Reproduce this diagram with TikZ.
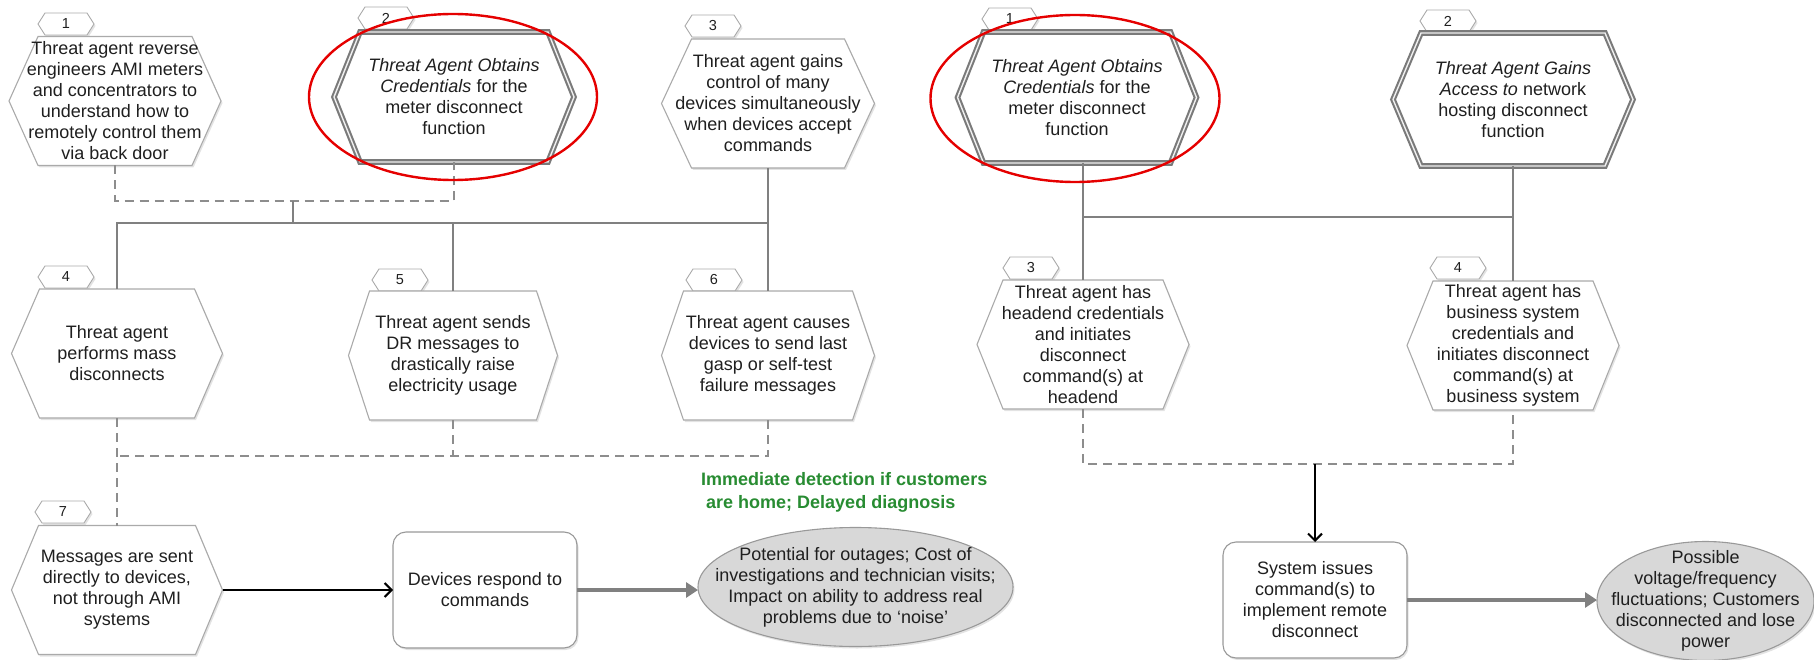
\documentclass[tikz,border=0pt]{standalone}
\usepackage{fontspec}
\setmainfont{Liberation Sans}
\usetikzlibrary{arrows.meta,shapes.geometric,shadows}

\definecolor{notegreen}{RGB}{40,140,50}
\definecolor{linegray}{RGB}{128,128,128}
\definecolor{hexedge}{RGB}{170,170,170}
\definecolor{outcomefill}{RGB}{216,216,216}

% hexagon with a text node on top of it
% #1 name, #2 outline style, #3 text style, #4 cx, #5 cy, #6 half width, #7 half height, #8 corner inset, #9 text
\newcommand\hexnode[9]{%
  \draw[#2] ({#4-#6},{#5}) -- ({#4-#6+#8},{#5-#7}) -- ({#4+#6-#8},{#5-#7})
    -- ({#4+#6},{#5}) -- ({#4+#6-#8},{#5+#7}) -- ({#4-#6+#8},{#5+#7}) -- cycle;
  \node[#3, minimum width={2*#6}, minimum height={2*#7}] (#1) at (#4,#5) {#9};
}

\begin{document}
\begin{tikzpicture}[x=1pt,y=-1pt,
  softshadow/.style={drop shadow={shadow xshift=1.5pt, shadow yshift=-2pt, opacity=0.22}},
  hexthin/.style={draw=hexedge, line width=1.1pt, fill=white, softshadow},
  hexbold/.style={draw=black!52, line width=2.1pt, double=black!6, double distance=1.4pt, fill=white, softshadow},
  tabshape/.style={draw=hexedge, line width=0.9pt, fill=white, softshadow},
  bodytext/.style={font=\fontsize{18}{21}\selectfont, text=black!88, align=center, inner sep=0pt, outer sep=0pt},
  tabtext/.style={font=\fontsize{14.5}{16}\selectfont, text=black!88, inner sep=0pt, outer sep=0pt},
  roundbox/.style={bodytext, draw=black!40, line width=1.1pt, fill=white, rounded corners=13pt, minimum width=184pt, minimum height=116pt, softshadow},
  outcome/.style={ellipse, draw=black!40, line width=1.1pt, fill=outcomefill, inner sep=0pt, outer sep=0pt, softshadow},
  highlight/.style={ellipse, draw=red!90!black, line width=2.4pt, inner sep=0pt},
  solidline/.style={draw=linegray, line width=2.2pt},
  dashline/.style={draw=linegray!90, line width=2.2pt, dash pattern=on 9pt off 6pt},
  blackarrow/.style={draw=black, line width=1.8pt, -{Straight Barb[length=7pt,width=14pt,line width=2pt]}},
  grayarrow/.style={draw=linegray, line width=4.5pt, -{Triangle[length=12pt,width=15pt]}},
  notetext/.style={font=\bfseries\fontsize{18}{23}\selectfont, text=notegreen, align=left, inner sep=0pt}
]
\useasboundingbox (0,0) rectangle (1814,660);

% ---------------- left tree ----------------
\hexnode{t1}{tabshape}{tabtext}{66}{24}{28}{11}{7}{1}
\hexnode{n1}{hexthin}{bodytext}{115}{101}{106}{64.5}{29}{Threat agent reverse\\engineers AMI meters\\and concentrators to\\understand how to\\remotely control them\\via back door}

\hexnode{t2}{tabshape}{tabtext}{386}{18}{28}{11}{7}{2}
\hexnode{n2}{hexbold}{bodytext}{454}{97}{120}{65}{26}{\textit{Threat Agent Obtains}\\\textit{Credentials} for the\\meter disconnect\\function}

\hexnode{t3}{tabshape}{tabtext}{713}{26}{28}{11}{7}{3}
\hexnode{n3}{hexthin}{bodytext}{768}{103.5}{106.5}{64.5}{30}{Threat agent gains\\control of many\\devices simultaneously\\when devices accept\\commands}

\hexnode{t4}{tabshape}{tabtext}{66}{277}{28}{11}{7}{4}
\hexnode{n4}{hexthin}{bodytext}{117}{353.5}{105.5}{64.5}{28}{Threat agent\\performs mass\\disconnects}

\hexnode{t5}{tabshape}{tabtext}{400}{280}{28}{11}{7}{5}
\hexnode{n5}{hexthin}{bodytext}{453}{355.5}{104.5}{64.5}{21}{Threat agent sends\\DR messages to\\drastically raise\\electricity usage}

\hexnode{t6}{tabshape}{tabtext}{714}{280}{28}{11}{7}{6}
\hexnode{n6}{hexthin}{bodytext}{768}{355.5}{106.5}{64.5}{22}{Threat agent causes\\devices to send last\\gasp or self-test\\failure messages}

\hexnode{t7}{tabshape}{tabtext}{63}{512}{28}{11}{7}{7}
\hexnode{n7}{hexthin}{bodytext}{117}{590}{105.5}{64.5}{27}{Messages are sent\\directly to devices,\\not through AMI\\systems}

\node[roundbox] (box1) at (485,590) {Devices respond to\\commands};
\node[outcome, minimum width=315pt, minimum height=119pt] (ell1) at (855.5,587) {};
\node[bodytext] (ell1text) at (ell1.center) {Potential for outages; Cost of\\investigations and technician visits;\\Impact on ability to address real\\problems due to ‘noise’};

\node[notetext, anchor=west] (note) at (701,492) {Immediate detection if customers\\\hspace{5pt}are home; Delayed diagnosis};

% connectors of the left tree
\coordinate (jTop) at (293,201);
\coordinate (busL) at (293,223);
\coordinate (jMid) at (117,456);
\draw[dashline] (n1.south) |- (jTop) -| (n2.south);
\draw[solidline] (jTop) -- (busL);
\draw[solidline] (n4.north) |- (busL) -| (n6.north);
\draw[solidline] (n3.south) -- (n3.south |- busL);
\draw[solidline] (n5.north) -- (n5.north |- busL);
\draw[dashline] (n6.south) |- (jMid);
\draw[dashline] (n5.south) -- (n5.south |- jMid);
\draw[dashline] (n4.south) -- (n7.north);
\draw[blackarrow] (n7.east) -- (box1.west);
\draw[grayarrow] (box1.east) -- (box1.east -| ell1.west);

% ---------------- right tree ----------------
\hexnode{r1t}{tabshape}{tabtext}{1010}{19}{28}{11}{7}{1}
\hexnode{r1}{hexbold}{bodytext}{1077}{97.5}{119.5}{65.5}{26}{\textit{Threat Agent Obtains}\\\textit{Credentials} for the\\meter disconnect\\function}

\hexnode{r2t}{tabshape}{tabtext}{1448}{21}{28}{11}{7}{2}
\hexnode{r2}{hexbold}{bodytext}{1513}{99.5}{120}{66.5}{28}{\textit{Threat Agent Gains}\\\textit{Access to} network\\hosting disconnect\\function}

\hexnode{r3t}{tabshape}{tabtext}{1031}{268}{28}{11}{7}{3}
\hexnode{r3}{hexthin}{bodytext}{1083}{344.5}{106}{64.5}{26}{Threat agent has\\headend credentials\\and initiates\\disconnect\\command(s) at\\headend}

\hexnode{r4t}{tabshape}{tabtext}{1458}{268}{28}{11}{7}{4}
\hexnode{r4}{hexthin}{bodytext}{1513}{345.5}{106}{64.5}{26}{Threat agent has\\business system\\credentials and\\initiates disconnect\\command(s) at\\business system}

\node[roundbox] (sys) at (1315,600) {System issues\\command(s) to\\implement remote\\disconnect};
\node[outcome, minimum width=217pt, minimum height=119pt] (ell2) at (1705.5,601) {};
\node[bodytext] (ell2text) at (ell2.center) {Possible\\voltage/frequency\\fluctuations; Customers\\disconnected and lose\\power};

% connectors of the right tree
\coordinate (busR) at (1083,217);
\coordinate (jR) at (1315,464);
\draw[solidline] (r1.south -| r3.north) -- (r3.north);
\draw[solidline] (r2.south -| r4.north) -- (r4.north);
\draw[solidline] (r3.north |- busR) -- (r4.north |- busR);
\draw[dashline] (r3.south) |- (jR) -| (r4.south);
\draw[blackarrow] (jR) -- (sys.north);
\draw[grayarrow] (sys.east) -- (sys.east -| ell2.west);

% red rings round the credential steps
\node[highlight, minimum width=288pt, minimum height=166pt] (ring1) at (453,97) {};
\node[highlight, minimum width=289pt, minimum height=167pt] (ring2) at (1075,98.5) {};
\end{tikzpicture}
\end{document}
